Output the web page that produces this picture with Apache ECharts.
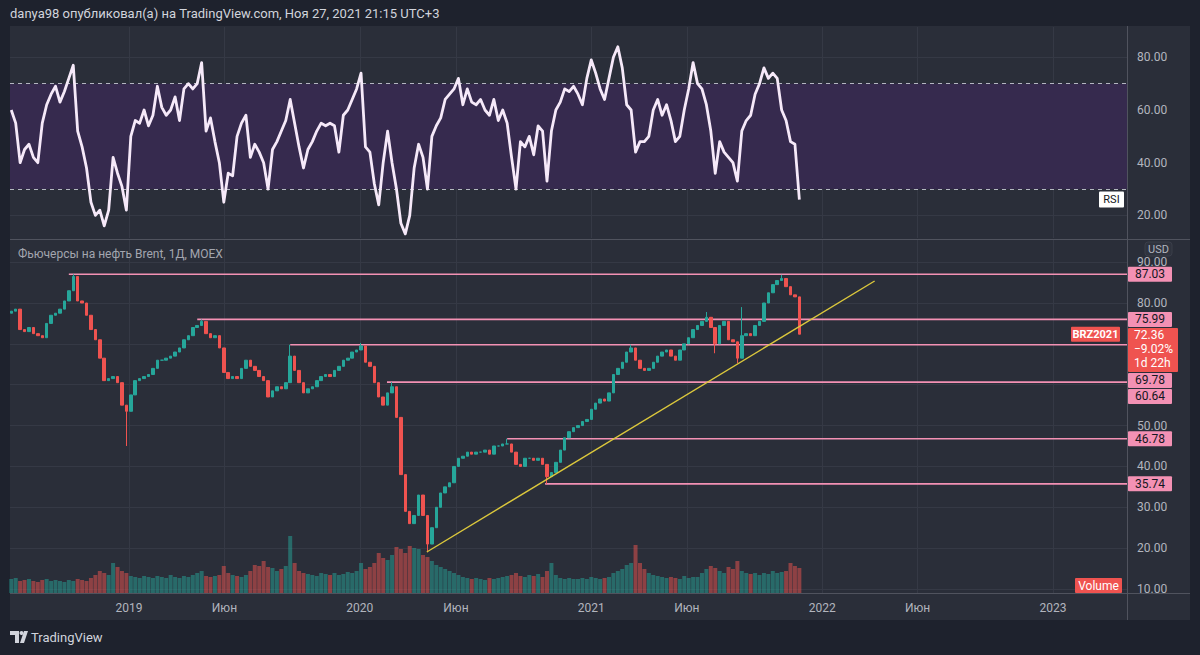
<!DOCTYPE html>
<html><head><meta charset="utf-8">
<script src="https://cdn.jsdelivr.net/npm/echarts@6/dist/echarts.min.js"></script>
<style>
html,body{margin:0;padding:0;background:#1e222d;}
#wrap{position:relative;width:1200px;height:655px;overflow:hidden;}
#pane{position:absolute;left:10px;top:26px;width:1180px;height:594px;background:#2a2e39;}
#c{position:absolute;left:0;top:0;width:1200px;height:655px;}
</style>
</head><body><div id="wrap"><div id="pane"></div><div id="c"></div></div>
<script>
// ---------------- DATA (weekly samples) ----------------
const weekStart = '2018-06-29';
const firstOpen = 77.5;
const closes = [
 78,78.5,73.5,73,74,72.5,72,71.5,75,77,
 77.5,78.5,80.5,83,86.5,80.5,80,77,73.5,71,
 66.5,61,61.5,62,60.5,55,53.5,57.5,61,61.5,
 62,62.5,64,66,66,66.5,67,68,69,71,
 72,74,74.5,75.5,72.5,71.5,72,69,63,61.5,
 62,61.5,64,66,64.5,63.5,62,61,57,58.5,
 59.5,59,60.5,67,63.5,60.5,58,59,59.5,61,
 62,62.5,62,63.5,64.5,66,66.5,68,68.5,69.5,
 65.5,64.5,60.5,57,55,58,59.5,52,38,29,
 26,28,33,28,21,25,30,33.5,35,36,
 40,42,42.5,43.5,43,43.5,43.5,44,43,45,
 45,45.5,45.5,43.5,40.5,40,42,42,41.5,42,
 40.5,37.5,38.5,41,44,47,48.5,49.5,50,51,
 51.5,54,55.5,56.5,56,58,62.5,64,65.5,68,
 69,66,64,63.5,64,65.5,67,68,68.5,67,
 66,68.5,70,71.5,73.5,74.5,75.5,76.5,74,70,
 74.5,75.5,71,70.5,66.5,72,72.5,72,74.5,75.5,
 80,82.5,84.5,85.5,86,84,82,81.5,72.36
];
// extreme wicks (week index -> price)
const wickHighs = {14:87.03, 43:75.99, 63:69.78, 79:70.2, 86:60.64, 112:46.78, 140:69.8, 157:77.8, 165:79, 174:86.9};
const wickLows  = {26:45, 94:19, 121:35.74, 159:67.7, 164:65.3};
// volume, thousand contracts
const volumes = [
 140,150,120,130,140,120,110,130,140,120,130,
 120,110,130,120,140,130,120,150,180,220,
 200,180,300,260,220,200,170,160,150,170,
 160,150,170,160,150,180,160,150,170,160,180,200,220,170,160,
 170,180,270,200,180,170,160,180,220,280,270,320,260,250,220,240,270,
 570,
 300,220,200,190,180,170,200,190,180,200,180,190,210,200,220,300,240,
 260,300,400,350,330,380,460,440,400,470,450,440,380,360,320,
 280,260,240,220,200,180,160,150,140,150,140,130,150,140,150,160,170,
 180,200,170,160,180,170,190,160,220,300,180,150,140,
 150,140,140,150,140,160,150,140,150,160,200,220,240,280,300,
 480,
 300,240,200,180,170,160,150,160,150,140,170,150,160,160,
 200,240,270,250,220,200,260,240,320,220,200,190,200,180,200,
 190,220,200,210,220,300,270,250
];
const rsi = [
 60,55,40,45,47,42,40,55,62,66,
 69,63,67,72,77,52,46,38,25,20,
 22,16,22,42,36,31,22,50,56,55,
 60,54,58,69,61,58,60,65,56,68,
 70,68,70,78,52,57,48,40,25,36,
 35,50,55,58,42,47,44,40,30,45,
 48,52,56,64,55,46,38,45,48,52,
 55,54,55,54,44,58,60,64,68,74,
 46,44,32,24,40,52,40,30,17,13,
 20,38,47,42,30,50,54,57,64,66,
 68,72,62,68,63,62,64,60,58,64,
 56,60,55,42,30,48,46,50,43,54,
 52,33,52,60,63,68,67,69,66,62,
 72,79,74,68,64,72,80,84,76,62,
 60,44,48,48,50,60,64,58,62,56,
 48,50,60,68,78,70,68,62,52,36,
 48,44,42,40,33,52,56,58,66,70,
 76,72,74,72,60,56,48,47,26
];
const levelStarts = ['2018-09-28','2019-04-19','2019-09-13','2020-02-13','2020-08-21','2020-10-20'];
const levelValues = [87.03, 75.99, 69.78, 60.64, 46.78, 35.74];
const trendDates = ['2020-04-16','2022-03-25'];
const trendValues = [19.06, 85.38];
const rsiBand = [30, 70];
const xTickDates = ['2019-01-01','2019-06-01','2020-01-01','2020-06-01','2021-01-01','2021-06-01','2022-01-01','2022-06-01','2023-01-01'];
const xTickLabels = ['2019','Июн','2020','Июн','2021','Июн','2022','Июн','2023'];
const rsiTicks = [20,40,60,80];
const priceTicks = [10,20,30,40,50,60,70,80,90];
const priceTickLabels = [10,20,30,40,50,80,90]; // 60 and 70 are covered by price tags in the reference
const xRange = ['2018-06-27','2023-04-28'];
const rsiRange = [11.42, 91.5];
const priceRange = [9.02, 95.42];
const volumeMax = 3530;
const lastClose = 72.36;
const changeText = '\u22129.02%';
const countdownText = '1d 22h';
const symbolText = 'BRZ2021';
const headerText = 'danya98 опубликовал(а) на TradingView.com, Ноя 27, 2021 21:15 UTC+3';
const titleText = 'Фьючерсы на нефть Brent, 1Д, MOEX';

// ---------------- BUILD ----------------
const toTs = s => { const p = s.split('-').map(Number); return new Date(p[0], p[1]-1, p[2]).getTime(); };
const dates = closes.map((_, i) => { const d = new Date(toTs(weekStart)); d.setDate(d.getDate() + 7*i); return d.getTime(); });
const xMin = toTs(xRange[0]), xMax = toTs(xRange[1]);
const xTicks = xTickDates.map(toTs);

const UP = '#26a69a', DOWN = '#ef5350';
const candles = closes.map((c, i) => {
  const o = i === 0 ? firstOpen : closes[i-1];
  let lo = Math.min(o, c), hi = Math.max(o, c);
  if (wickLows[i] != null) lo = wickLows[i];
  if (wickHighs[i] != null) hi = wickHighs[i];
  return [dates[i], o, c, lo, hi];
});
const volData = volumes.map((v, i) => ({
  value: [dates[i], v],
  itemStyle: { color: candles[i][2] >= candles[i][1] ? 'rgba(38,166,154,0.5)' : 'rgba(239,83,80,0.5)' }
}));

const gridLine = { show: true, lineStyle: { color: '#353945', width: 1 } };
const xLabelFmt = v => { const i = xTicks.findIndex(t => Math.abs(t - v) < 86400000); return i >= 0 ? xTickLabels[i] : ''; };
const fontFam = 'Roboto, "Noto Sans", sans-serif';

const levelSeries = levelValues.map((v, i) => ({
  type: 'line', xAxisIndex: 1, yAxisIndex: 1, symbol: 'none', silent: true, z: 4,
  lineStyle: { color: '#f391b4', width: 1.6 },
  data: [[toTs(levelStarts[i]), v], [xMax, v]]
}));

const option = {
  animation: false,
  backgroundColor: 'transparent',
  textStyle: { fontFamily: fontFam },
  grid: [
    { left: 10, right: 73, top: 27, height: 211, containLabel: false },
    { left: 10, right: 73, top: 240, height: 353, containLabel: false }
  ],
  xAxis: [
    { type: 'value', gridIndex: 0, min: xMin, max: xMax, scale: true,
      axisLine: { show: false }, axisTick: { show: false, customValues: xTicks },
      axisLabel: { show: false, customValues: xTicks }, splitLine: gridLine },
    { type: 'value', gridIndex: 1, min: xMin, max: xMax, scale: true,
      axisLine: { show: false }, axisTick: { show: false, customValues: xTicks },
      axisLabel: { customValues: xTicks, formatter: xLabelFmt, color: '#b2b5be', fontSize: 12, margin: 9, fontFamily: fontFam },
      splitLine: gridLine }
  ],
  yAxis: [
    { type: 'value', gridIndex: 0, position: 'right', min: rsiRange[0], max: rsiRange[1],
      axisLine: { show: false }, axisTick: { show: false, customValues: rsiTicks },
      axisLabel: { customValues: rsiTicks, formatter: v => v.toFixed(2), color: '#b2b5be', fontSize: 12, margin: 10, fontFamily: fontFam },
      splitLine: gridLine },
    { type: 'value', gridIndex: 1, position: 'right', min: priceRange[0], max: priceRange[1],
      axisLine: { show: false }, axisTick: { show: false, customValues: priceTicks },
      axisLabel: { customValues: priceTickLabels, formatter: v => v.toFixed(2), color: '#b2b5be', fontSize: 12, margin: 10, fontFamily: fontFam },
      splitLine: gridLine },
    { type: 'value', gridIndex: 1, min: 0, max: volumeMax, show: false, splitLine: { show: false } }
  ],
  series: [
    { type: 'line', xAxisIndex: 0, yAxisIndex: 0, symbol: 'none', z: 5,
      lineStyle: { color: '#f6e9f9', width: 2.8, join: 'round' },
      data: dates.map((t, i) => [t, rsi[i]]),
      markArea: { silent: true, itemStyle: { color: '#362a4e' }, data: [[{ yAxis: rsiBand[0] }, { yAxis: rsiBand[1] }]] },
      markLine: { silent: true, symbol: ['none','none'], label: { show: false },
        lineStyle: { type: [4, 4], color: 'rgba(215,218,226,0.8)', width: 1 },
        data: [{ yAxis: rsiBand[1] }, { yAxis: rsiBand[0] }] }
    },
    { type: 'bar', xAxisIndex: 1, yAxisIndex: 2, barWidth: 4, z: 1, data: volData, silent: true },
    { type: 'candlestick', xAxisIndex: 1, yAxisIndex: 1, barWidth: 3, z: 6,
      encode: { x: 0, y: [1, 2, 3, 4] },
      itemStyle: { color: UP, color0: DOWN, borderColor: UP, borderColor0: DOWN, borderWidth: 1 },
      data: candles },
    ...levelSeries,
    { type: 'line', xAxisIndex: 1, yAxisIndex: 1, symbol: 'none', silent: true, z: 7,
      lineStyle: { color: '#dcc83c', width: 1.4 },
      data: trendDates.map((d, i) => [toTs(d), trendValues[i]]) }
  ]
};

const chart = echarts.init(document.getElementById('c'), null, { renderer: 'svg' });
chart.setOption(option);

// ---------------- OVERLAY LABELS (positions from the chart's scales) ----------------
const yP = v => chart.convertToPixel({ yAxisIndex: 1 }, v);
const yR = v => chart.convertToPixel({ yAxisIndex: 0 }, v);
const gridBottom = yP(priceRange[0]);
const axisX = 1127;
const g = [];
g.push({ type: 'line', shape: { x1: 10, y1: 239.5, x2: 1190, y2: 239.5 }, style: { stroke: '#50535e', lineWidth: 1 }, z: 50 });
g.push({ type: 'line', shape: { x1: 10, y1: 593.5, x2: 1190, y2: 593.5 }, style: { stroke: '#50535e', lineWidth: 1 }, z: 50 });
g.push({ type: 'line', shape: { x1: axisX + 0.5, y1: 26, x2: axisX + 0.5, y2: 620 }, style: { stroke: '#50535e', lineWidth: 1 }, z: 50 });
g.push({ type: 'text', x: 10, y: 13, style: { text: headerText, fill: '#d1d4dc', font: '13px ' + fontFam, textVerticalAlign: 'middle' }, z: 50 });
g.push({ type: 'text', x: 18, y: 254, style: { text: titleText, fill: '#a3a6af', font: '12px ' + fontFam, textVerticalAlign: 'middle' }, z: 50 });

const boxes = levelValues.map(v => ({ kind: 'level', v, y: yP(v) - 7.5, h: 15 }));
boxes.push({ kind: 'last', v: lastClose, y: yP(lastClose) - 7.5, h: 44 });
boxes.sort((a, b) => a.y - b.y);
for (let i = 1; i < boxes.length; i++) {
  const p = boxes[i-1];
  if (boxes[i].y < p.y + p.h + 1) boxes[i].y = p.y + p.h + 1;
}
boxes.forEach(b => {
  if (b.kind === 'level') {
    g.push({ type: 'rect', shape: { x: axisX + 1, y: b.y, width: 44, height: b.h, r: 1 }, style: { fill: '#f391b4' }, z: 60 });
    g.push({ type: 'text', x: axisX + 23, y: b.y + b.h/2, style: { text: b.v.toFixed(2), fill: '#131722', font: '12px ' + fontFam, textAlign: 'center', textVerticalAlign: 'middle' }, z: 61 });
  } else {
    g.push({ type: 'rect', shape: { x: axisX + 1, y: b.y, width: 50, height: b.h, r: 1 }, style: { fill: '#ef5350' }, z: 60 });
    [b.v.toFixed(2), changeText, countdownText].forEach((t, k) => {
      g.push({ type: 'text', x: axisX + 7, y: b.y + 7.5 + 14 * k, style: { text: t, fill: '#ffffff', font: '12px ' + fontFam, textVerticalAlign: 'middle' }, z: 61 });
    });
  }
});
const yLast = yP(lastClose);
g.push({ type: 'rect', shape: { x: 1071, y: yLast - 7.5, width: 49, height: 15, r: 1 }, style: { fill: '#ef5350' }, z: 60 });
g.push({ type: 'text', x: 1095.5, y: yLast, style: { text: symbolText, fill: '#ffffff', font: 'bold 11px ' + fontFam, textAlign: 'center', textVerticalAlign: 'middle' }, z: 61 });
const yRsiLast = yR(rsi[rsi.length - 1]);
g.push({ type: 'rect', shape: { x: 1099, y: yRsiLast - 8, width: 25, height: 16, r: 1 }, style: { fill: '#ffffff' }, z: 60 });
g.push({ type: 'text', x: 1111.5, y: yRsiLast, style: { text: 'RSI', fill: '#131722', font: '11px ' + fontFam, textAlign: 'center', textVerticalAlign: 'middle' }, z: 61 });
g.push({ type: 'rect', shape: { x: 1075, y: gridBottom - 15, width: 47, height: 15, r: 1 }, style: { fill: '#ef5350' }, z: 60 });
g.push({ type: 'text', x: 1098.5, y: gridBottom - 7.5, style: { text: 'Volume', fill: '#ffffff', font: '12px ' + fontFam, textAlign: 'center', textVerticalAlign: 'middle' }, z: 61 });
g.push({ type: 'rect', shape: { x: 1145, y: 242, width: 27, height: 14, r: 3 }, style: { fill: '#2f333e', stroke: '#3a3e49', lineWidth: 1 }, z: 60 });
g.push({ type: 'text', x: 1158.5, y: 249, style: { text: 'USD', fill: '#b2b5be', font: '11px ' + fontFam, textAlign: 'center', textVerticalAlign: 'middle' }, z: 61 });
g.push({ type: 'polygon', shape: { points: [[10,631],[19,631],[19,643],[15,643],[15,635],[10,635]] }, style: { fill: '#d1d4dc' }, z: 60 });
g.push({ type: 'circle', shape: { cx: 21.5, cy: 633, r: 2 }, style: { fill: '#d1d4dc' }, z: 60 });
g.push({ type: 'polygon', shape: { points: [[24,631],[28,631],[24,643],[20,643]] }, style: { fill: '#d1d4dc' }, z: 60 });
g.push({ type: 'text', x: 31, y: 637, style: { text: 'TradingView', fill: '#d1d4dc', font: '13px ' + fontFam, textVerticalAlign: 'middle' }, z: 60 });

chart.setOption({ graphic: { elements: g } });
</script>
</body></html>
